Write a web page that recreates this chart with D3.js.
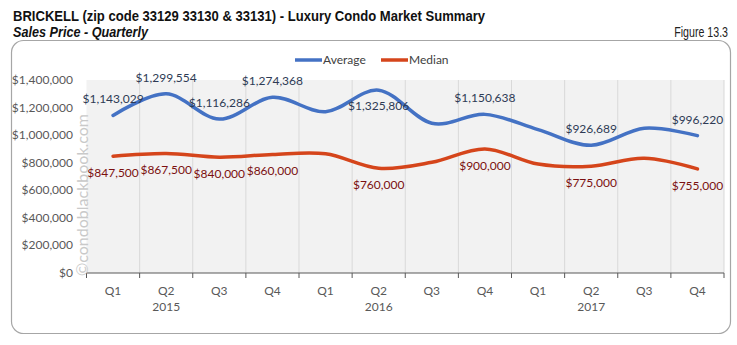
<!DOCTYPE html>
<html>
<head>
<meta charset="utf-8">
<script src="https://cdn.jsdelivr.net/npm/d3@7"></script>
<style>
  body { margin: 0; background: #fff; }
  svg { display: block; }
</style>
</head>
<body>
<svg id="chart"></svg>
<script>
// quarters + years along the bottom
const quarters = ["Q1", "Q2", "Q3", "Q4", "Q1", "Q2", "Q3", "Q4", "Q1", "Q2", "Q3", "Q4"];
const years = ["2015", "2016", "2017"];
const average = [1143029, 1299554, 1116286, 1274368, 1170000, 1325806, 1086000, 1150638, 1040000, 926689, 1050000, 996220];
const median = [847500, 867500, 840000, 860000, 865000, 760000, 803000, 900000, 790000, 775000, 832000, 755000];
// which points carry a data label
const avgLabeled = [true, true, true, true, false, true, false, true, false, true, false, true];
const medLabeled = [true, true, true, true, false, true, false, true, false, true, false, true];
const yTicks = [0, 200000, 400000, 600000, 800000, 1000000, 1200000, 1400000];

const width = 737;
const height = 345;
const marginTop = 80;
const marginRight = 13;
const marginBottom = 72;
const marginLeft = 86.5;

const titleFont = "'Liberation Sans', Arial, sans-serif";

const svg = d3.select("#chart")
    .attr("width", width)
    .attr("height", height)
    .style("font-family", "Lato, sans-serif");

// titles (narrow font in the original, squeezed to fit)
svg.append("text")
    .attr("x", 13).attr("y", 20.5)
    .attr("textLength", 472).attr("lengthAdjust", "spacingAndGlyphs")
    .style("font-family", titleFont)
    .style("font-weight", "bold").style("font-size", "14px").attr("fill", "#111")
    .text("BRICKELL (zip code 33129 33130 & 33131) - Luxury Condo Market Summary");
svg.append("text")
    .attr("x", 13).attr("y", 36.5)
    .attr("textLength", 135).attr("lengthAdjust", "spacingAndGlyphs")
    .style("font-family", titleFont)
    .style("font-weight", "bold").style("font-style", "italic").style("font-size", "14px").attr("fill", "#111")
    .text("Sales Price - Quarterly");
svg.append("text")
    .attr("transform", "translate(728,36.5) scale(0.76,1)")
    .attr("text-anchor", "end")
    .style("font-family", titleFont)
    .style("font-size", "14px").attr("fill", "#222")
    .text("Figure 13.3");

// chart frame
svg.append("rect")
    .attr("x", 11.5).attr("y", 40.5).attr("width", 719).attr("height", 293)
    .attr("rx", 12).attr("fill", "#fff").attr("stroke", "#a6a6a6").attr("stroke-width", 1.2);

const x = d3.scaleBand()
    .domain(d3.range(quarters.length))
    .range([marginLeft, width - marginRight]);

const y = d3.scaleLinear()
    .domain([0, 1400000])
    .range([height - marginBottom, marginTop]);

// plot background
svg.append("rect")
    .attr("x", marginLeft).attr("y", marginTop)
    .attr("width", width - marginRight - marginLeft)
    .attr("height", height - marginBottom - marginTop)
    .attr("fill", "#f2f2f2");

// vertical gridlines at category edges
const edges = d3.range(quarters.length + 1).map(i => marginLeft + i * x.step());
svg.append("g")
    .selectAll("line")
    .data(edges.slice(1))
    .join("line")
      .attr("x1", d => d).attr("x2", d => d)
      .attr("y1", marginTop).attr("y2", height - marginBottom)
      .attr("stroke", "#d9d9d9");

// x axis
const xAxis = svg.append("g")
    .attr("transform", `translate(0,${height - marginBottom})`);
xAxis.append("line")
    .attr("x1", marginLeft).attr("x2", width - marginRight)
    .attr("stroke", "#595959").attr("stroke-width", 1.2);
xAxis.selectAll(".tick")
    .data(edges)
    .join("line")
      .attr("x1", d => d).attr("x2", d => d)
      .attr("y1", 0).attr("y2", 5)
      .attr("stroke", "#595959");
xAxis.selectAll(".q")
    .data(quarters)
    .join("text")
      .attr("x", (d, i) => x(i) + x.bandwidth() / 2)
      .attr("y", 22)
      .attr("text-anchor", "middle")
      .attr("fill", "#595959")
      .style("font-size", "12px")
      .text(d => d);
xAxis.selectAll(".yr")
    .data(years)
    .join("text")
      .attr("x", (d, i) => x(i * 4 + 1) + x.bandwidth() / 2)
      .attr("y", 38)
      .attr("text-anchor", "middle")
      .attr("fill", "#595959")
      .style("font-size", "12px")
      .text(d => d);

// y axis labels
svg.append("g")
    .selectAll("text")
    .data(yTicks)
    .join("text")
      .attr("x", 73)
      .attr("y", d => y(d) + 4)
      .attr("text-anchor", "end")
      .attr("fill", "#595959")
      .style("font-size", "12px")
      .text(d => "$" + d3.format(",")(d));

// watermark
svg.append("text")
    .attr("transform", `translate(${88},${276}) rotate(-90)`)
    .attr("fill", "#c9c9c9")
    .style("font-size", "16px")
    .text("©condoblackbook.com");

const line = d3.line()
    .x((d, i) => x(i) + x.bandwidth() / 2)
    .y(d => y(d))
    .curve(d3.curveCardinal.tension(0));

svg.append("path")
    .attr("d", line(average))
    .attr("fill", "none").attr("stroke", "#4472c4").attr("stroke-width", 3.5)
    .attr("stroke-linecap", "round");
svg.append("path")
    .attr("d", line(median))
    .attr("fill", "none").attr("stroke", "#d5451b").attr("stroke-width", 3.5)
    .attr("stroke-linecap", "round");

// data labels (Q2 2016 average sits below its point)
svg.append("g")
    .selectAll("text")
    .data(average.map((v, i) => ({v, i})).filter(d => avgLabeled[d.i]))
    .join("text")
      .attr("x", d => x(d.i) + x.bandwidth() / 2)
      .attr("y", d => d.i === 5 ? y(d.v) + 20 : y(d.v) - 12)
      .attr("text-anchor", "middle")
      .attr("fill", "#2e3b55")
      .style("font-size", "12px")
      .text(d => "$" + d3.format(",")(d.v));

svg.append("g")
    .selectAll("text")
    .data(median.map((v, i) => ({v, i})).filter(d => medLabeled[d.i]))
    .join("text")
      .attr("x", d => x(d.i) + x.bandwidth() / 2)
      .attr("y", d => y(d.v) + 21)
      .attr("text-anchor", "middle")
      .attr("fill", "#7b1010")
      .style("font-size", "12px")
      .text(d => "$" + d3.format(",")(d.v));

// legend
const legend = [
  {name: "Average", color: "#4472c4", x: 295},
  {name: "Median", color: "#d5451b", x: 381}
];
const lg = svg.append("g").selectAll("g").data(legend).join("g")
    .attr("transform", d => `translate(${d.x},60)`);
lg.append("line")
    .attr("x1", 0).attr("x2", 27)
    .attr("stroke", d => d.color).attr("stroke-width", 3.5);
lg.append("text")
    .attr("x", 28).attr("y", 4)
    .attr("fill", "#404040")
    .style("font-size", "12px")
    .text(d => d.name);
</script>
</body>
</html>
